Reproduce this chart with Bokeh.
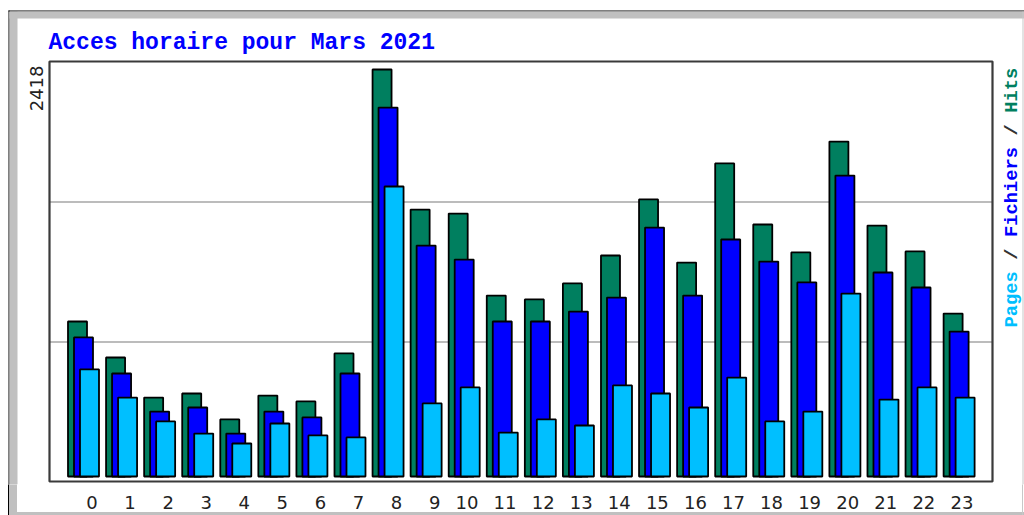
import numpy as np
from bokeh.plotting import figure
from bokeh.models import Label, BoxAnnotation, FixedTicker, Range1d
from bokeh.embed import file_html
from bokeh.resources import INLINE

# ---- data ----
hours = list(range(24))
hour_labels = [str(h) for h in hours]
hits = [921, 707, 469, 493, 339, 481, 446, 731, 2418, 1586, 1562, 1075,
        1052, 1147, 1313, 1646, 1271, 1860, 1497, 1331, 1990, 1491, 1337, 968]
files = [826, 612, 386, 410, 255, 386, 351, 612, 2192, 1372, 1289, 921,
         921, 980, 1063, 1479, 1075, 1408, 1277, 1153, 1788, 1212, 1123, 861]
pages = [636, 469, 327, 255, 196, 315, 244, 232, 1723, 434, 529, 261,
         339, 303, 541, 493, 410, 588, 327, 386, 1087, 457, 529, 469]
title_text = "Acces horaire pour Mars 2021"
max_label = "2418"
legend_parts = ["Pages", "/", "Fichiers", "/", "Hits"]
legend_colors = ["#00bfff", "#333333", "#0000ff", "#333333", "#007f5f"]
legend_char_offsets = [0, 6, 8, 17, 19]   # position of each word in "Pages / Fichiers / Hits"

# ---- layout (pixels) ----
W, H = 1024, 515
FB = 484                         # frame bottom (canvas px)
x0_px = 91.5                     # canvas x of hour 0 label centre
slot = 38.07                     # px per hour
bar_px = 19
max_px = 407                     # height of the largest bar
base_px = 476                    # canvas y of bar base
upp = max(hits) / max_px         # data units per pixel

box_l, box_r, box_t, box_b = 49, 992, 61, 481

x_start = (0 - x0_px) / slot
x_end = (W - x0_px) / slot
y_start = -(FB - base_px) * upp
y_end = base_px * upp

p = figure(width=W, height=H, output_backend="svg", toolbar_location=None,
           x_range=Range1d(x_start, x_end), y_range=Range1d(y_start, y_end),
           y_axis_location=None,
           min_border_left=0, min_border_top=0, min_border_right=0,
           min_border_bottom=H - FB)
p.background_fill_color = "white"
p.border_fill_alpha = 0
p.outline_line_color = None
p.grid.visible = False

# picture frame drawn by CSS behind the (transparent) border area
p.styles = {
    "background-color": "white",
    "background-image": ", ".join(["linear-gradient(#000,#000)",
                                   "linear-gradient(#c0c0c0,#c0c0c0)",
                                   "linear-gradient(#000,#000)",
                                   "linear-gradient(#c0c0c0,#c0c0c0)",
                                   "linear-gradient(#c8c8c8,#c8c8c8)",
                                   "linear-gradient(#c0c0c0,#c0c0c0)"]),
    "background-position": "8px 10px, 9px 11px, 8px 10px, 9px 11px, 1022px 11px, 9px 512px",
    "background-size": "1px 505px, 8px 504px, 1016px 1px, 1015px 7px, 1px 504px, 1015px 3px",
    "background-repeat": "no-repeat",
}

ax = p.xaxis[0]
ticks = [h if len(lbl) == 1 else h - 5.7 / slot for h, lbl in zip(hours, hour_labels)]
ax.ticker = FixedTicker(ticks=ticks)
ax.major_label_overrides = {t: lbl for t, lbl in zip(ticks, hour_labels)}
ax.axis_line_color = None
ax.major_tick_line_color = None
ax.minor_tick_line_color = None
ax.major_label_text_font = "DejaVu Sans"
ax.major_label_text_font_size = "18px"
ax.major_label_text_color = "#222222"
ax.major_label_standoff = 5


def sbox(l, r, top_px, bot_px, **kw):
    """box in canvas pixels (y from top), expressed in frame screen units"""
    p.add_layout(BoxAnnotation(left=l, right=r, top=FB - top_px, bottom=FB - bot_px,
                               left_units="screen", right_units="screen",
                               top_units="screen", bottom_units="screen", **kw))


# outer picture frame (inside the frame area)
sbox(8, 9, 10, FB, fill_color="#000000", fill_alpha=1, line_color=None)
sbox(9, 17, 11, FB, fill_color="#c0c0c0", fill_alpha=1, line_color=None)
sbox(8, 1024, 10, 11, fill_color="#000000", fill_alpha=1, line_color=None)
sbox(9, 1024, 11, 18, fill_color="#c0c0c0", fill_alpha=1, line_color=None)
sbox(1022, 1023, 11, FB, fill_color="#c8c8c8", fill_alpha=1, line_color=None)

# horizontal guide lines at thirds of the plot box
for k in (1, 2):
    gy = box_b - k * (box_b - box_t) / 3
    sbox(box_l, box_r, gy, gy + 1, fill_color="#7a7a7a", fill_alpha=1,
         line_color=None, level="underlay")

w = bar_px / slot
xs = np.array(hours, dtype=float)
p.vbar(x=xs - 14.5 / slot, top=hits, bottom=0, width=w,
       fill_color="#007f5f", line_color="black", line_width=1.8)
p.vbar(x=xs - 8.5 / slot, top=files, bottom=0, width=w,
       fill_color="#0000ff", line_color="black", line_width=1.8)
p.vbar(x=xs - 2.5 / slot, top=pages, bottom=0, width=w,
       fill_color="#00bfff", line_color="black", line_width=1.8)

# plot box border
sbox(box_l, box_r, box_t, box_b, fill_alpha=0, line_color="#3a3a3a",
     line_alpha=1, line_width=2.2, level="overlay")

p.add_layout(Label(x=48, y=FB - 42, x_units="screen", y_units="screen",
                   text=title_text, text_font="Liberation Mono",
                   text_font_style="bold", text_font_size="23px",
                   text_color="#0000ff", text_baseline="alphabetic"))

p.add_layout(Label(x=36, y=FB - 65, x_units="screen", y_units="screen",
                   text=max_label, angle=np.pi / 2, text_align="right",
                   text_baseline="alphabetic", text_font="DejaVu Sans",
                   text_font_size="18px", text_color="#222222"))

# legend words, read bottom-to-top, monospaced placement
char_px = 11.3
for part, col, off in zip(legend_parts, legend_colors, legend_char_offsets):
    p.add_layout(Label(x=1011, y=FB - 327 + off * char_px,
                       x_units="screen", y_units="screen",
                       text=part, angle=np.pi / 2, text_align="left",
                       text_baseline="alphabetic", text_font="Liberation Mono",
                       text_font_style="bold", text_font_size="18.8px",
                       text_color=col))

open("out.html", "w").write(file_html(p, INLINE))
